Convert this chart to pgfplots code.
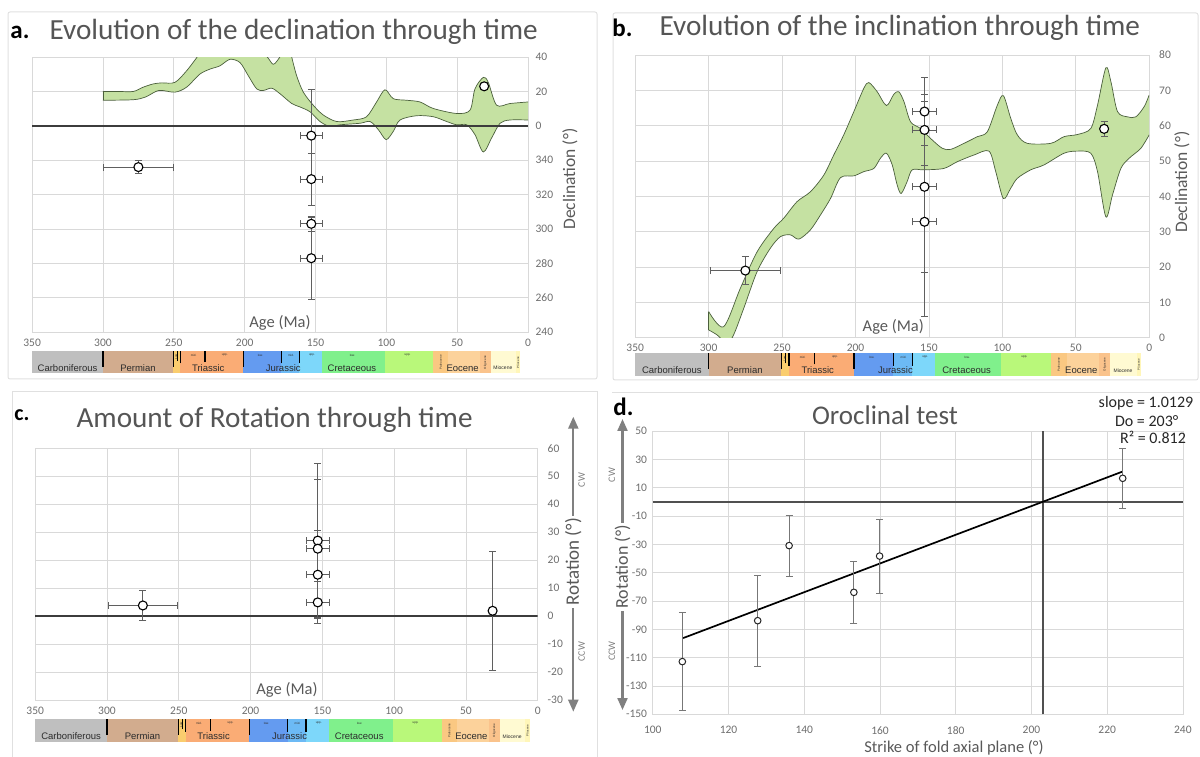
\documentclass[border=0pt]{standalone}
\usepackage{pgfplots}
\usepackage{pgfplotstable}
\pgfplotsset{compat=1.18}
\usepgfplotslibrary{fillbetween}
\usetikzlibrary{arrows.meta}
\usepackage{fontspec}
\setmainfont{Carlito}
\newfontfamily\tsfont{Liberation Sans}
\newcommand{\fs}[1]{\fontsize{#1}{#1}\selectfont}

\definecolor{gridc}{RGB}{217,217,217}
\definecolor{tickc}{RGB}{110,110,110}
\definecolor{titlec}{RGB}{85,85,85}
\definecolor{labc}{RGB}{89,89,89}
\definecolor{bandfill}{RGB}{197,225,162}
\definecolor{bandedge}{RGB}{75,95,60}
\definecolor{errc}{RGB}{95,95,95}
\definecolor{framec}{RGB}{224,224,224}
\definecolor{arrowc}{RGB}{128,128,128}
\definecolor{zeroc}{RGB}{60,60,60}
\definecolor{tsText}{RGB}{45,45,45}
\definecolor{tsCarb}{RGB}{191,191,191}
\definecolor{tsPerm}{RGB}{210,172,142}
\definecolor{tsTriE}{RGB}{250,205,110}
\definecolor{tsTri}{RGB}{250,172,117}
\definecolor{tsJurE}{RGB}{100,155,240}
\definecolor{tsJurM}{RGB}{108,186,245}
\definecolor{tsJurL}{RGB}{125,215,250}
\definecolor{tsCreE}{RGB}{128,240,140}
\definecolor{tsCreL}{RGB}{185,248,122}
\definecolor{tsPal}{RGB}{250,200,130}
\definecolor{tsEoc}{RGB}{252,210,155}
\definecolor{tsOli}{RGB}{250,195,140}
\definecolor{tsMio}{RGB}{255,250,210}
\definecolor{tsPli}{RGB}{255,246,185}

% ---------- data ----------
\pgfplotstableread{
x y
300 20
289 20
278.6 20
271.6 22.5
264.5 24.4
258.6 25
249.2 25.3
241 32
233.9 39.6
228 46
215 48
200 47
190 44
184 40
179.8 35.8
175.5 39.6
172 44
168 44
166.8 40
163.3 29.1
158.6 19.6
151.6 12
144.5 6.3
135 2.5
123.4 3.4
114 5.3
106.9 13.9
101 21
95.1 15.8
85.7 14.9
76.3 13.9
66.9 10.1
50.4 7.2
41 9.1
37.5 21.5
31.6 28.2
28.1 25.3
22.2 12
12.8 13
0 13.9
}\aUp
\pgfplotstableread{
x y
300 14.9
278.6 15.2
269.9 16.8
260.5 20.6
249.2 19.6
241 22.5
231.6 30.1
224.5 33
217.5 34.9
210.4 38.7
203.3 36.8
197.4 29.1
191.5 21.5
186.8 20.6
180.9 21.9
175.1 18.7
166.8 13
161 11
153.9 8.2
146.8 2.5
139.8 -0.4
132.7 0.6
118.6 1.5
111.5 2.5
105.6 -2.3
100.2 -8
95.1 -3.2
90.4 3.4
78.6 5.9
66.9 5.3
57.4 2.5
50.4 0.6
43.3 0.6
37.5 -5.1
31.6 -15.2
25.7 -7
19.8 1.5
12.8 3.4
0 3.4
}\aLo
\pgfplotstableread{
x y ex ey
275 -24 25 3.9
153 -5.7 8 27
153 -31 8 15
153 -57 8 4.6
153 -77 8 24
31 23 0 2
}\aPts

\pgfplotstableread{
x y
300 7.4
289.8 3.1
278.4 14.0
267.0 24.3
255.7 30.9
248.9 33.8
239.8 38.5
230.7 41.3
221.6 46.0
214.8 51.7
208.0 57.4
201.1 64.0
194.3 70.6
190.9 72.2
185.2 69.6
178.9 65.7
173.9 68.9
170.5 69.6
167.0 66.8
162.5 61.1
155.7 59.2
148.9 56.4
140.9 53.6
135.2 53.3
126.1 55.0
117.0 56.9
110.2 58.3
103.4 65.8
99.3 68.5
94.3 62.1
89.8 57.4
83.0 55.0
67.0 55.0
58.0 56.9
48.9 57.5
39.8 59.2
35.2 65.8
29.5 76.4
26.1 72.5
21.6 64.0
14.8 62.5
9.1 62.5
3.4 65.4
0 68.7
}\bUp
\pgfplotstableread{
x y
300 2.2
294.3 0.8
287.5 -1.5
283.0 0.8
276.1 8.3
267.0 18.7
258.0 25.3
251.1 28.6
244.3 29.1
238.6 27.9
230.7 30.5
223.9 34.7
217.0 39.4
210.2 45.3
201.1 45.8
194.3 47.0
187.5 47.9
183.0 50.8
178.9 52.2
175.0 48.9
171.6 43.2
168.9 40.8
164.8 44.2
161.4 47.5
153.4 47.5
139.8 47.9
130.7 49.8
119.3 51.7
109.1 52.8
104.5 47.0
99.3 39.4
94.3 42.3
89.8 45.1
80.7 47.5
71.6 48.9
58.0 52.2
48.9 52.8
39.8 52.2
35.2 47.0
29.5 34.2
25.0 40.4
19.3 47.9
13.6 50.8
5.7 53.6
0 57.4
}\bLo
\pgfplotstableread{
x y ex ey
275 19 24 3.9
153 64 8 9.6
153 58.8 8 10.1
153 42.7 8 24.1
153 32.8 8 26.9
30.7 59.1 0 2.1
}\bPts

\pgfplotstableread{
x y ex ey
275 3.8 24 5.4
153.2 27 8 27.6
153.2 24.1 8 24.8
153.2 14.8 8 15.7
153.2 4.9 8 7.4
31.4 1.9 0 21.3
}\cPts

\pgfplotstableread{
x y ey
107.8 -112.8 34.5
127.7 -83.9 32
136.0 -30.9 21.5
153.1 -63.9 21.8
159.9 -38.3 26
224.1 16.6 21.2
}\dPts

% ---------- styles ----------
\pgfplotsset{
  base/.style={scale only axis, anchor=south west,
    axis line style={draw=gridc, line width=0.8pt},
    grid=major, grid style={draw=gridc, line width=0.8pt},
    tick style={draw=none}, major tick length=0pt,
    tick label style={font=\fs{11.5}, text=tickc}},
  agescale/.style={xmin=0, xmax=350, x dir=reverse,
    xtick={0,50,...,350}, xticklabels={0,50,100,150,200,250,300,350}},
  pts/.style={only marks, mark=*, mark size=4.5pt,
    mark options={fill=white, draw=black, line width=1.1pt, solid},
    error bars/x dir=both, error bars/x explicit,
    error bars/y dir=both, error bars/y explicit,
    error bars/error bar style={draw=errc, line width=0.8pt},
    error bars/error mark options={rotate=90, draw=errc, line width=0.8pt, mark size=3.5pt}},
  tscale/.style={scale only axis, anchor=south west, hide axis,
    xmin=0, xmax=350, x dir=reverse, ymin=0, ymax=1, clip=false},
}
\tikzset{
  tslab/.style={font=\tsfont\fs{9.5}, text=tsText, inner sep=0pt},
  tstiny/.style={font=\tsfont\fs{3}, text=tsText, inner sep=0pt},
}

\newcommand{\seg}[3]{\addplot[fill=#3,draw=none] coordinates {(#1,0) (#2,0) (#2,1) (#1,1)} -- cycle;}
\newcommand{\bnd}[2]{\addplot[black,line width=1.1pt] coordinates {(#1,#2) (#1,1)};}
\newcommand{\timescale}{%
 \seg{350}{300}{tsCarb}
 \seg{300}{250.4}{tsPerm}
 \seg{250.4}{245.3}{tsTriE}
 \seg{245.3}{201}{tsTri}
 \seg{201}{174.2}{tsJurE}
 \seg{174.2}{161.4}{tsJurM}
 \seg{161.4}{145.7}{tsJurL}
 \seg{145.7}{101}{tsCreE}
 \seg{101}{66.9}{tsCreL}
 \seg{66.9}{56.3}{tsPal}
 \seg{56.3}{34}{tsEoc}
 \seg{34}{26.4}{tsOli}
 \seg{26.4}{8.5}{tsMio}
 \seg{8.5}{5.5}{tsPli}
 \bnd{300}{0.3}\bnd{250.4}{0.3}\bnd{247.6}{0.55}\bnd{245.3}{0.45}\bnd{228}{0.5}
 \bnd{201}{0.3}\bnd{174.2}{0.45}\bnd{161.4}{0.45}
 \node[tslab] at (axis cs:325,0.24) {Carboniferous};
 \node[tslab] at (axis cs:275.3,0.24) {Permian};
 \node[tslab] at (axis cs:225.7,0.24) {Triassic};
 \node[tslab] at (axis cs:172.8,0.24) {Jurassic};
 \node[tslab] at (axis cs:124.3,0.24) {Cretaceous};
 \node[tslab] at (axis cs:46.2,0.24) {Eocene};
 \node[tslab, font=\tsfont\fs{5}] at (axis cs:17.8,0.24) {Miocene};
 \node[tstiny, rotate=90] at (axis cs:61.6,0.5) {Paleocene};
 \node[tstiny, rotate=90] at (axis cs:30.2,0.5) {Oligocene};
 \node[tstiny, rotate=90] at (axis cs:7,0.5) {Pliocene};
 \node[tstiny, rotate=90] at (axis cs:248.3,0.75) {Low};
 \node[tstiny] at (axis cs:236,0.82) {mid.};
 \node[tstiny] at (axis cs:214,0.82) {upp.};
 \node[tstiny] at (axis cs:188.9,0.82) {low.};
 \node[tstiny] at (axis cs:167.3,0.82) {mid.};
 \node[tstiny] at (axis cs:152.5,0.82) {upp.};
 \node[tstiny] at (axis cs:124,0.82) {low.};
 \node[tstiny] at (axis cs:85,0.82) {upp.};
}

\begin{document}
\begin{tikzpicture}

% panel frames
\draw[framec, line width=1pt, rounded corners=2pt] (8pt,377pt) rectangle (597pt,744pt);
\draw[framec, line width=1pt, rounded corners=2pt] (613pt,376pt) rectangle (1198pt,743pt);
\draw[framec, line width=1pt] (12pt,-5pt) -- (12pt,364pt) -- (597pt,364pt) -- (597pt,-5pt);
\draw[framec, line width=1pt] (612pt,363pt) -- (1205pt,363pt);

% ================= panel a =================
\begin{axis}[base, agescale, at={(32.1pt,423.9pt)}, width=496pt, height=275pt,
  ymin=-120, ymax=40, ytick={-120,-100,...,40},
  yticklabels={240,260,280,300,320,340,0,20,40},
  yticklabel pos=right,
  xticklabel style={yshift=-3.5pt}, yticklabel style={xshift=4pt}]
\addplot[name path=aup, smooth, draw=none] table[x=x,y=y] {\aUp};
\addplot[name path=alo, smooth, draw=none] table[x=x,y=y] {\aLo};
\addplot[bandfill] fill between[of=aup and alo];
\addplot[smooth, bandedge, line width=0.7pt] table[x=x,y=y] {\aUp};
\addplot[smooth, bandedge, line width=0.7pt] table[x=x,y=y] {\aLo};
\addplot[bandedge, line width=0.7pt] coordinates {(300,20) (300,14.9)};
\addplot[zeroc, line width=1.4pt] coordinates {(350,0) (0,0)};
\addplot[pts] table[x=x,y=y,x error=ex,y error=ey] {\aPts};
\end{axis}
\begin{axis}[tscale, at={(32.1pt,382.5pt)}, width=496pt, height=22.5pt]
\timescale
\end{axis}

% ================= panel b =================
\begin{axis}[base, agescale, at={(635.2pt,418.3pt)}, width=514pt, height=282.7pt,
  ymin=0, ymax=80, ytick={0,10,...,80},
  yticklabels={0,10,20,30,40,50,60,70,80},
  yticklabel pos=right,
  xticklabel style={yshift=-2.5pt}, yticklabel style={xshift=6.5pt}]
\addplot[name path=bup, smooth, draw=none] table[x=x,y=y] {\bUp};
\addplot[name path=blo, smooth, draw=none] table[x=x,y=y] {\bLo};
\addplot[bandfill] fill between[of=bup and blo];
\addplot[smooth, bandedge, line width=0.7pt] table[x=x,y=y] {\bUp};
\addplot[smooth, bandedge, line width=0.7pt] table[x=x,y=y] {\bLo};
\addplot[bandedge, line width=0.7pt] coordinates {(300,7.4) (300,2.2)};
\addplot[pts] table[x=x,y=y,x error=ex,y error=ey] {\bPts};
\end{axis}
\begin{axis}[tscale, at={(635.2pt,380pt)}, width=514pt, height=23pt]
\timescale
\end{axis}

% ================= panel c =================
\begin{axis}[base, agescale, at={(35.2pt,56pt)}, width=502.5pt, height=251.7pt,
  ymin=-30, ymax=60, ytick={-30,-20,...,60},
  yticklabels={-30,-20,-10,0,10,20,30,40,50,60},
  yticklabel pos=right,
  xticklabel style={yshift=-4pt}, yticklabel style={xshift=6.5pt}]
\addplot[zeroc, line width=1.4pt] coordinates {(350,0) (0,0)};
\addplot[pts] table[x=x,y=y,x error=ex,y error=ey] {\cPts};
\end{axis}
\begin{axis}[tscale, at={(35.2pt,14pt)}, width=502.5pt, height=23pt]
\timescale
\end{axis}

% ================= panel d =================
\begin{axis}[base, at={(652.8pt,41.7pt)}, width=530.1pt, height=283.3pt,
  xmin=100, xmax=240, xtick={100,120,...,240},
  xticklabels={100,120,140,160,180,200,220,240},
  ymin=-150, ymax=50, ytick={-150,-130,...,50},
  yticklabels={-150,-130,-110,-90,-70,-50,-30,-10,10,30,50},
  xticklabel style={yshift=-8.5pt}, yticklabel style={xshift=-2.2pt}]
\addplot[zeroc!90, line width=1.4pt] coordinates {(100,0) (240,0)};
\addplot[zeroc!90, line width=1.4pt] coordinates {(203,-150) (203,50)};
\addplot[black, line width=1.7pt] coordinates {(108,-96.2) (224,21.3)};
\addplot[only marks, mark=*, mark size=3.3pt,
    mark options={fill=white, draw=black!85, line width=1pt, solid},
    error bars/y dir=both, error bars/y explicit,
    error bars/error bar style={draw=errc!85, line width=0.8pt},
    error bars/error mark options={rotate=90, draw=errc!85, line width=0.8pt, mark size=3.5pt}]
  table[x=x,y=y,y error=ey] {\dPts};
\end{axis}

% ================= texts =================
\node[anchor=center, font=\bfseries\fs{25}] at (20pt,724pt) {a.};
\node[anchor=west, font=\fs{29.2}, text=titlec] at (46pt,724pt) {Evolution of the declination through time};
\node[anchor=center, font=\bfseries\fs{25}] at (622.5pt,727.7pt) {b.};
\node[anchor=west, font=\fs{29.2}, text=titlec] at (656pt,728pt) {Evolution of the inclination through time};
\node[anchor=center, font=\bfseries\fs{22}] at (22pt,341pt) {c.};
\node[anchor=west, font=\fs{29.2}, text=titlec] at (73pt,336pt) {Amount of Rotation through time};
\node[anchor=center, font=\bfseries\fs{25}] at (623.5pt,349pt) {d.};
\node[anchor=center, font=\fs{27}, text=titlec] at (885pt,341pt) {Oroclinal test};

\node[font=\fs{16}, text=black!85] at (1146pt,352.7pt) {slope = 1.0129};
\node[font=\fs{16}, text=black!85] at (1146.7pt,335.3pt) {Do = 203°};
\node[font=\fs{16}, text=black!85] at (1153pt,318.7pt) {R² = 0.812};

\node[font=\fs{16.5}, text=labc] at (280pt,433pt) {Age (Ma)};
\node[font=\fs{16.5}, text=labc] at (893.3pt,429.3pt) {Age (Ma)};
\node[font=\fs{16.5}, text=labc] at (287pt,66pt) {Age (Ma)};
\node[font=\fs{17.5}, text=labc, rotate=90] at (570pt,577pt) {Declination (°)};
\node[font=\fs{17.5}, text=labc, rotate=90] at (1182pt,574pt) {Declination (°)};
\node[font=\fs{16.5}, text=labc] at (954pt,8pt) {Strike of fold axial plane (°)};

% rotation arrows
\draw[arrowc, line width=2.2pt, {Triangle[width=10pt,length=12pt]}-{Triangle[width=10pt,length=12pt]}] (573.3pt,44.3pt) -- (573.3pt,339.3pt);
\node[font=\fs{19}, text=labc, fill=white, rotate=90, inner sep=2pt] at (573.3pt,194pt) {Rotation (°)};
\node[font=\fs{10}, text=arrowc, rotate=90] at (581.7pt,276pt) {CW};
\node[font=\fs{10}, text=arrowc, rotate=90] at (581.7pt,104.3pt) {CCW};

\draw[arrowc, line width=2.2pt, {Triangle[width=10pt,length=12pt]}-{Triangle[width=10pt,length=12pt]}] (622.5pt,46pt) -- (622.5pt,337pt);
\node[font=\fs{18}, text=labc, fill=white, rotate=90, inner sep=2pt] at (622.5pt,189pt) {Rotation (°)};
\node[font=\fs{10}, text=arrowc, rotate=90] at (612pt,281pt) {CW};
\node[font=\fs{10}, text=arrowc, rotate=90] at (612pt,105pt) {CCW};

\pgfresetboundingbox
\path[use as bounding box] (0pt,0pt) rectangle (1200pt,756pt);
\end{tikzpicture}
\end{document}
